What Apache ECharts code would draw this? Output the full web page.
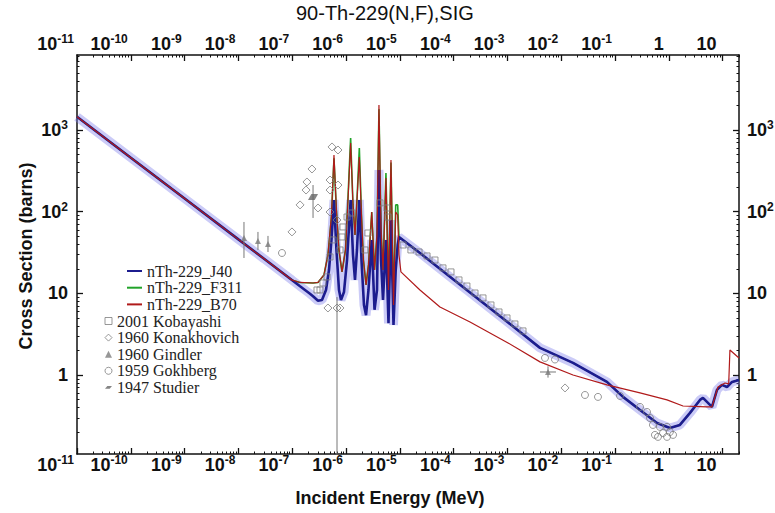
<!DOCTYPE html>
<html><head><meta charset="utf-8">
<script src="https://cdn.jsdelivr.net/npm/echarts@6/dist/echarts.min.js"></script>
<style>html,body{margin:0;padding:0;background:#fff}#c{width:775px;height:513px}</style>
</head><body><div id="c"></div>
<script>
// ---------- data (energy in MeV, cross section in barns) ----------
const xTickExps = [-11,-10,-9,-8,-7,-6,-5,-4,-3,-2,-1,0,1];
const yTickExps = [0,1,2,3];
const xRange = [1e-11, 20.2];
const yRange = [0.108, 8280];

const J40 = [[1e-11,1450],[1e-10,458],[1e-9,145],[1e-8,45.8],[3e-8,26.5],[1e-7,14.5],[1.40e-7,12.2],[1.73e-7,11.0],[2.14e-7,9.9],[2.44e-7,9.2],[3.02e-7,8.1],[3.58e-7,8.3],[4.25e-7,11.0],[4.83e-7,19.3],[5.37e-7,45],[5.98e-7,139],[6.65e-7,34],[7.41e-7,11.0],[8.07e-7,8.3],[9.18e-7,10.4],[1.045e-6,25.6],[1.22e-6,139],[1.35e-6,29.5],[1.47e-6,14.6],[1.60e-6,34],[1.77e-6,139],[1.94e-6,25.6],[2.16e-6,7.2],[2.36e-6,5.4],[2.62e-6,11.0],[3.01e-6,45],[3.39e-6,6.3],[3.77e-6,11.0],[4.10e-6,324],[4.48e-6,25.6],[4.88e-6,8.3],[5.53e-6,45],[6.17e-6,4.3],[6.86e-6,79],[7.64e-6,4.1],[8.40e-6,19.3],[9.14e-6,39],[9.66e-6,49],[2.37e-5,31.2],[1.02e-4,14.6],[1.03e-3,4.40],[4.04e-3,2.15],[1.66e-2,1.41],[7.09e-2,0.824],[0.141,0.540],[0.292,0.374],[0.604,0.259],[1.05,0.225],[1.61,0.245],[2.48,0.344],[3.80,0.496],[4.32,0.525],[6.35,0.407],[7.87,0.658],[9.75,0.757],[12.1,0.714],[15.0,0.824],[20.2,0.871]];

const F311 = [[1e-11,1450],[1e-10,458],[1e-9,145],[1e-8,45.8],[3e-8,26.5],[1e-7,14.5],[1.40e-7,13.6],[2.44e-7,13.4],[3.02e-7,13.6],[3.90e-7,16.8],[4.62e-7,29.5],[5.37e-7,85],[5.98e-7,450],[6.65e-7,100],[7.41e-7,33],[8.43e-7,18.3],[9.79e-7,34],[1.09e-6,150],[1.22e-6,798],[1.35e-6,121],[1.47e-6,51.9],[1.60e-6,139],[1.77e-6,603],[1.94e-6,91],[2.11e-6,25.6],[2.36e-6,12.7],[2.62e-6,22.3],[3.01e-6,99],[3.39e-6,19.3],[3.77e-6,51.9],[4.10e-6,1800],[4.48e-6,59.7],[4.88e-6,19.3],[5.53e-6,298],[6.17e-6,11.0],[6.86e-6,400],[7.64e-6,7.2],[8.40e-6,121],[9.14e-6,121],[9.66e-6,49],[2.37e-5,31.2],[1.02e-4,14.6],[1.03e-3,4.40],[4.04e-3,2.15],[1.66e-2,1.41],[7.09e-2,0.824],[0.141,0.540],[0.292,0.374],[0.604,0.259],[1.05,0.225],[1.61,0.245],[2.48,0.344],[3.80,0.496],[4.32,0.525],[6.35,0.407],[7.87,0.658],[9.75,0.757],[12.1,0.714],[15.0,0.824],[20.2,0.871]];

const B70 = [[1e-11,1450],[1e-10,458],[1e-9,145],[1e-8,45.8],[3e-8,26.5],[1e-7,14.5],[1.40e-7,13.6],[2.44e-7,13.4],[3.02e-7,13.6],[3.90e-7,16.8],[4.62e-7,29.5],[5.37e-7,91],[5.98e-7,494],[6.65e-7,105],[7.41e-7,34],[8.43e-7,18.3],[9.79e-7,34],[1.09e-6,139],[1.22e-6,693],[1.35e-6,121],[1.47e-6,51.9],[1.60e-6,139],[1.77e-6,467],[1.94e-6,91],[2.11e-6,25.6],[2.36e-6,12.7],[2.62e-6,22.3],[3.01e-6,99],[3.39e-6,19.3],[3.77e-6,51.9],[4.10e-6,2023],[4.48e-6,59.7],[4.88e-6,19.3],[5.53e-6,258],[6.17e-6,11.0],[6.86e-6,430],[7.64e-6,7.2],[8.40e-6,99],[9.14e-6,91],[9.66e-6,29.5],[1.05e-5,18.3],[2.37e-5,11.0],[5.58e-5,6.8],[2.02e-4,4.47],[1.03e-3,2.47],[4.04e-3,1.45],[1.66e-2,1.0],[7.09e-2,0.757],[0.292,0.604],[0.927,0.496],[1.84,0.418],[5.13,0.407],[6.35,0.407],[8.21,0.714],[11.1,0.80],[13.0,0.78],[13.7,2.03],[20.2,1.62]];

const kobayashi = [[1.15e-5,39.1],[1.61e-5,34.0],[2.28e-5,32.1],[3.21e-5,28.7],[4.51e-5,25.6],[6.35e-5,20.5],[8.95e-5,18.3],[1.26e-4,14.6],[1.77e-4,12.3],[2.50e-4,10.1],[3.52e-4,8.79],[4.95e-4,7.21],[6.98e-4,5.92],[9.84e-4,5.00],[1.38e-3,4.22],[1.95e-3,3.47],[2.89e-7,11.0],[3.29e-7,11.0],[3.73e-7,13.4],[4.44e-7,15.9],[5.05e-7,27.9],[5.73e-7,45.1],[7.73e-7,34.0],[8.43e-7,49.0],[8.79e-7,65.0],[1.045e-6,86],[1.29e-6,96.4],[2.25e-6,34.0],[2.56e-6,54.8],[4.29e-6,128],[5.78e-6,111],[6.04e-6,86]];
const konakhovich = [[5.50e-7,620],[7.10e-7,569],[2.33e-7,333],[1.88e-7,231],[1.81e-7,184],[1.40e-7,121],[9.9e-8,56.5],[3.02e-7,111],[5.05e-7,244],[5.05e-7,184],[7.10e-7,212],[5.05e-7,99],[6.81e-7,79],[4.62e-7,6.62],[6.81e-7,6.62],[7.73e-7,6.62],[1.18e-2,0.695]];
const gindler = [[1.27e-8,47.6],[2.31e-8,43.8],[3.55e-8,40.3],[5.69e-3,1.09]];
const gokhberg = [[6.46e-8,31.2],[5.0e-3,1.62],[7.67e-3,1.55],[2.77e-2,0.570],[4.83e-2,0.540],[0.124,0.555],[0.292,0.407],[0.394,0.353],[0.448,0.298],[0.508,0.245],[0.553,0.185],[0.630,0.175],[0.685,0.232],[0.780,0.195],[0.927,0.232],[0.927,0.175],[1.05,0.201],[1.20,0.185]];
const studier = [[2.44e-7,151]];
const errV = [[1.27e-8,27.1,74.8],[2.31e-8,34,56.5],[3.55e-8,32.1,50.5],[2.44e-7,83.8,212],[6.81e-7,0.01,9.0],[5.69e-3,0.93,1.28]];
const errH = [[4.04e-3,8.0e-3,1.09]];

// ---------- chart ----------
const L = Math.log10;
const toXY = arr => arr.map(p => [L(p[0]), L(p[1])]);
const xMinL = L(xRange[0]), xMaxL = L(xRange[1]);
const yMinL = L(yRange[0]), yMaxL = L(yRange[1]);

const xMinor = [], yMinor = [];
for (let n = -11; n <= 1; n++) for (let k = 2; k <= 9; k++) { const v = n + L(k); if (v > xMinL && v < xMaxL) xMinor.push(v); }
for (let n = -1; n <= 3; n++) for (let k = 2; k <= 9; k++) { const v = n + L(k); if (v > yMinL && v < yMaxL) yMinor.push(v); }

const FONT = 'Liberation Sans';
const rich = {
  b: {fontSize: 18, fontWeight: 'bold', fontFamily: FONT, color: '#111', lineHeight: 22},
  s: {fontSize: 12, fontWeight: 'bold', fontFamily: FONT, color: '#111', lineHeight: 12, verticalAlign: 'top'},
  p: {width: 5}, q: {width: 6}, r: {width: 3}
};
function fmtX(v) {
  v = Math.round(v);
  if (v === 0) return '{b|1}{p| }';
  if (v === 1) return '{b|10}{q| }';
  return '{b|10}{s|' + v + '}{r| }';
}
function fmtY(v) {
  v = Math.round(v);
  if (v === 0) return '{b|1}';
  if (v === 1) return '{b|10}';
  return '{b|10}{s|' + v + '}';
}
const AX = '#111';
function xAxisCfg(pos, major) {
  return {
    type: 'value', position: pos, min: xMinL, max: xMaxL,
    axisLine: {show: major, onZero: false, lineStyle: {color: AX, width: 1.5}},
    axisTick: {show: true, inside: true, length: major ? 6 : 2.5, customValues: major ? xTickExps : xMinor, lineStyle: {color: AX, width: major ? 1.3 : 1}},
    axisLabel: major ? {show: true, customValues: xTickExps, formatter: fmtX, rich: rich, margin: 0, align: 'right'} : {show: false},
    splitLine: {show: false}
  };
}
function yAxisCfg(pos, major) {
  return {
    type: 'value', position: pos, min: yMinL, max: yMaxL,
    axisLine: {show: major, onZero: false, lineStyle: {color: AX, width: 1.5}},
    axisTick: {show: true, inside: true, length: major ? 6 : 2.5, customValues: major ? yTickExps : yMinor, lineStyle: {color: AX, width: major ? 1.3 : 1}},
    axisLabel: major ? {show: true, customValues: yTickExps, formatter: fmtY, rich: rich, margin: pos === 'left' ? 9 : 8} : {show: false},
    splitLine: {show: false}
  };
}

const GRAY = '#7d7d7d';
const series = [
  {type: 'line', name: 'band', data: toXY(J40), showSymbol: false, lineStyle: {color: 'rgba(125,125,235,0.40)', width: 9}, z: 1},
  {type: 'line', name: 'nTh-229_F311', data: toXY(F311), showSymbol: false, itemStyle: {color: '#22a32a'}, lineStyle: {color: '#22a32a', width: 1.6}, z: 2},
  {type: 'line', name: 'nTh-229_J40', data: toXY(J40), showSymbol: false, itemStyle: {color: '#1c1c8e'}, lineStyle: {color: '#1c1c8e', width: 2.6}, z: 2},
  {type: 'line', name: 'nTh-229_B70', data: toXY(B70), showSymbol: false, itemStyle: {color: '#b01a1a'}, lineStyle: {color: '#b01a1a', width: 1.2}, z: 2},
  {type: 'scatter', name: '2001 Kobayashi', data: toXY(kobayashi), symbol: 'rect', symbolSize: 6, itemStyle: {color: 'rgba(255,255,255,0)', borderColor: GRAY, borderWidth: 1}, z: 3},
  {type: 'scatter', name: '1960 Konakhovich', data: toXY(konakhovich), symbol: 'diamond', symbolSize: 8, itemStyle: {color: 'rgba(255,255,255,0)', borderColor: GRAY, borderWidth: 1}, z: 3},
  {type: 'scatter', name: '1960 Gindler', data: toXY(gindler), symbol: 'triangle', symbolSize: 6, itemStyle: {color: GRAY}, z: 3},
  {type: 'scatter', name: '1959 Gokhberg', data: toXY(gokhberg), symbol: 'circle', symbolSize: 7, itemStyle: {color: 'rgba(255,255,255,0)', borderColor: GRAY, borderWidth: 1}, z: 3},
  {type: 'scatter', name: '1947 Studier', data: toXY(studier), symbol: 'path://M4,0L12,0L8,5L0,5Z', symbolSize: [10, 6], itemStyle: {color: '#666'}, z: 3}
];
errV.forEach(e => series.push({type: 'line', name: 'err', data: [[L(e[0]), L(e[1])], [L(e[0]), L(e[2])]], showSymbol: false, lineStyle: {color: '#777', width: 1}, z: 3}));
errH.forEach(e => series.push({type: 'line', name: 'err', data: [[L(e[0]), L(e[2])], [L(e[1]), L(e[2])]], showSymbol: false, lineStyle: {color: '#777', width: 1}, z: 3}));

const legText = {fontFamily: 'Liberation Serif', fontSize: 16, color: '#222', lineHeight: 16};
const option = {
  animation: false,
  backgroundColor: '#fff',
  title: {text: '90-Th-229(N,F),SIG', left: 296, top: 2, padding: 0, textStyle: {fontSize: 20, fontWeight: 'normal', fontFamily: FONT, color: '#111', lineHeight: 22}},
  grid: {left: 77, right: 36, top: 55, bottom: 59, containLabel: false, outerBoundsMode: 'none'},
  xAxis: [xAxisCfg('bottom', true), xAxisCfg('bottom', false), xAxisCfg('top', true), xAxisCfg('top', false)],
  yAxis: [yAxisCfg('left', true), yAxisCfg('left', false), yAxisCfg('right', true), yAxisCfg('right', false)],
  legend: [
    {orient: 'vertical', left: 127, top: 263, padding: 0, itemGap: 0.7, itemWidth: 15, itemHeight: 2, itemTextGap: 1, selectedMode: false, textStyle: legText,
     data: [{name: 'nTh-229_J40', icon: 'rect'}, {name: 'nTh-229_F311', icon: 'rect'}, {name: 'nTh-229_B70', icon: 'rect'}]},
    {orient: 'vertical', left: 104.5, top: 313, padding: 0, itemGap: 0.6, itemWidth: 7, itemHeight: 7, itemTextGap: 5, selectedMode: false, textStyle: legText,
     data: [
       {name: '2001 Kobayashi', icon: 'rect', itemStyle: {color: '#fff', borderColor: GRAY, borderWidth: 1}},
       {name: '1960 Konakhovich', icon: 'diamond', itemStyle: {color: '#fff', borderColor: GRAY, borderWidth: 1}},
       {name: '1960 Gindler', icon: 'triangle', itemStyle: {color: GRAY}},
       {name: '1959 Gokhberg', icon: 'circle', itemStyle: {color: '#fff', borderColor: GRAY, borderWidth: 1}},
       {name: '1947 Studier', icon: 'path://M4,0L12,0L8,5L0,5Z', itemStyle: {color: '#666'}}
     ]}
  ],
  graphic: [
    {type: 'text', x: 390, y: 498, style: {text: 'Incident Energy (MeV)', font: 'bold 18px "Liberation Sans"', fill: '#111', textAlign: 'center', textVerticalAlign: 'middle', align: 'center', verticalAlign: 'middle'}},
    {type: 'text', x: 26, y: 256, rotation: Math.PI / 2, style: {text: 'Cross Section (barns)', font: 'bold 18px "Liberation Sans"', fill: '#111', textAlign: 'center', textVerticalAlign: 'middle', align: 'center', verticalAlign: 'middle'}}
  ],
  series: series.map(s => Object.assign({xAxisIndex: 0, yAxisIndex: 0, silent: true}, s))
};
const chart = echarts.init(document.getElementById('c'), null, {renderer: 'svg'});
chart.setOption(option);
</script></body></html>
